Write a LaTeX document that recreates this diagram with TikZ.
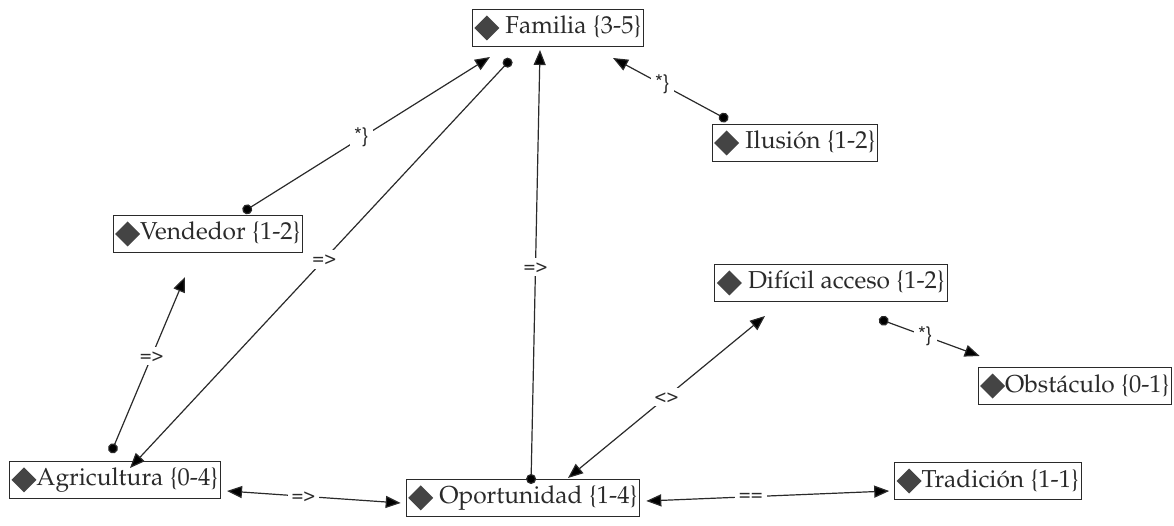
\documentclass[tikz,border=0pt]{standalone}
\usepackage[T1]{fontenc}
\usepackage{mathpazo}
\usepackage[scaled=0.92]{helvet}
\usetikzlibrary{arrows.meta}
\definecolor{dgray}{HTML}{2A2A2A}
\definecolor{dmdgray}{HTML}{444444}
\newcommand{\dmd}{\tikz[baseline=-6pt]\fill[dmdgray] (0,12.5pt) -- (12.5pt,0) -- (0,-12.5pt) -- (-12.5pt,0) -- cycle;}
\begin{document}
\begin{tikzpicture}[x=1pt,y=-1pt,
  code/.style={draw=dgray, line width=1pt, inner xsep=2pt, inner ysep=0pt, minimum height=37pt,
    font=\fontsize{24.5}{28}\selectfont, text=dgray},
  link/.style={draw=dgray, line width=1.2pt, {Circle[length=10pt]}-{Triangle[length=15pt,width=12pt]}},
  twoway/.style={draw=dgray, line width=1.2pt, {Triangle[length=15pt,width=12pt]}-{Triangle[length=15pt,width=12pt]}},
  lbl/.style={fill=white, inner sep=4pt, font=\sffamily\fontsize{22}{24}\selectfont, text=dgray}]
\useasboundingbox (0,0) rectangle (1174,526);
\node [code] (fam) at (558,28) {\dmd\ Familia \{3-5\}};
\node [code] (ilu) at (795,143) {\dmd\ Ilusi\'on \{1-2\}};
\node [code] (ven) at (208,234) {\dmd Vendedor \{1-2\}};
\node [code] (dif) at (831,283) {\dmd\ Dif\'{\i}cil acceso \{1-2\}};
\node [code] (obs) at (1075,386) {\dmd Obst\'aculo \{0-1\}};
\node [code] (agr) at (115,480) {\dmd Agricultura \{0-4\}};
\node [code] (opo) at (523,498) {\dmd\ Oportunidad \{1-4\}};
\node [code] (tra) at (988,481) {\dmd Tradici\'on \{1-1\}};
\draw [link] ([xshift=35pt,yshift=3pt]ven.north) -- node[lbl, pos=0.48] {*\}} ([xshift=-68pt,yshift=-10pt]fam.south);
\draw [link] ([xshift=-47pt,yshift=-12pt]fam.south) -- node[lbl, pos=0.49] {=>} ([xshift=15pt,yshift=-7pt]agr.north);
\draw [link] ([xshift=8pt,yshift=-5pt]opo.north) -- node[lbl, pos=0.5] {=>} ([xshift=-18pt,yshift=-3pt]fam.south);
\draw [link] ([xshift=-67pt,yshift=4pt]ilu.north) -- node[lbl, pos=0.57] {*\}} ([xshift=55pt,yshift=-11pt]fam.south);
\draw [link] ([xshift=-4pt,yshift=8pt]agr.north) -- node[lbl, pos=0.55] {=>} ([xshift=-23pt,yshift=-24pt]ven.south);
\draw [twoway] ([xshift=6pt,yshift=-11pt]agr.east) -- node[lbl, pos=0.44] {=>} ([xshift=-5pt,yshift=-5pt]opo.west);
\draw [twoway] ([xshift=45pt,yshift=1pt]opo.north) -- node[lbl, pos=0.5] {<>} ([xshift=-66pt,yshift=-14pt]dif.south);
\draw [twoway] ([xshift=6pt,yshift=-3pt]opo.east) -- node[lbl, pos=0.43] {==} ([xshift=-5pt,yshift=-10pt]tra.west);
\draw [link] ([xshift=48pt,yshift=-17pt]dif.south) -- node[lbl, pos=0.46] {*\}} ([xshift=2pt,yshift=11pt]obs.north west);
\end{tikzpicture}
\end{document}
